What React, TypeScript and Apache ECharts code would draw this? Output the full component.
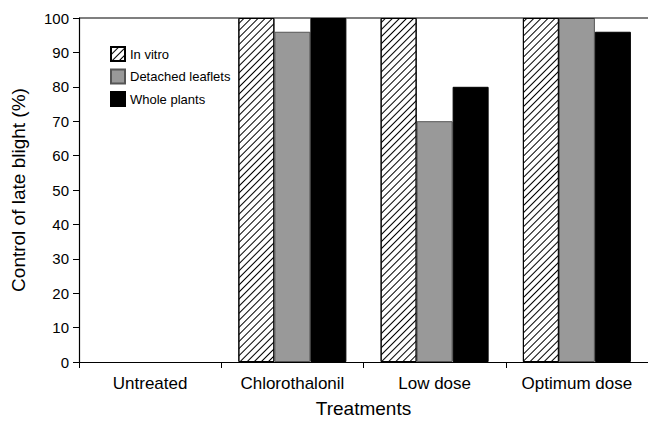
import React, { useEffect, useRef } from "react";
import * as echarts from "echarts";

const categories = ["Untreated", "Chlorothalonil", "Low dose", "Optimum dose"];
const inVitro = [0, 100, 100, 100];
const detachedLeaflets = [0, 96, 70, 100];
const wholePlants = [0, 100, 80, 96];
const yTicks = { min: 0, max: 100, interval: 10 };

const toItems = (arr: number[]) =>
  arr.map((v) => (v === 0 ? { value: v, itemStyle: { borderWidth: 0 } } : v));

export default function App() {
  const ref = useRef<HTMLDivElement>(null);
  useEffect(() => {
    if (!ref.current) return;
    const chart = echarts.init(ref.current, undefined, { renderer: "svg" });
    const font = "Liberation Sans, Arial, sans-serif";
    chart.setOption({
      animation: false,
      textStyle: { fontFamily: font },
      grid: {
        left: 79,
        right: 0,
        top: 18,
        bottom: 59,
        containLabel: false,
        outerBoundsMode: "none",
      },
      legend: {
        orient: "vertical",
        left: 105,
        top: 41,
        icon: "rect",
        itemWidth: 14,
        itemHeight: 14,
        itemGap: 6.5,
        textStyle: { fontSize: 13, lineHeight: 14, color: "#000", fontFamily: font },
        data: ["In vitro", "Detached leaflets", "Whole plants"],
      },
      xAxis: {
        type: "category",
        data: categories,
        name: "Treatments",
        nameLocation: "middle",
        nameGap: 37,
        nameTextStyle: { fontSize: 19, color: "#000", fontFamily: font },
        axisLine: { lineStyle: { color: "#000", width: 1.2 } },
        axisTick: { show: true, length: 6, lineStyle: { color: "#000" } },
        axisLabel: { fontSize: 17, color: "#000", margin: 13, fontFamily: font, interval: 0, hideOverlap: false },
      },
      yAxis: {
        type: "value",
        min: yTicks.min,
        max: yTicks.max,
        interval: yTicks.interval,
        name: "Control of late blight (%)",
        nameLocation: "middle",
        nameGap: 51,
        nameTextStyle: { fontSize: 19, color: "#000", fontFamily: font },
        axisLine: { show: true, lineStyle: { color: "#000", width: 1.2 } },
        axisTick: { show: true, length: 6, lineStyle: { color: "#000" } },
        axisLabel: { fontSize: 15, color: "#000", margin: 10, fontFamily: font },
        splitLine: { show: false },
      },
      graphic: [
        {
          type: "line",
          shape: { x1: 79, y1: 18, x2: 648, y2: 18 },
          style: { stroke: "#000", lineWidth: 1.2 },
          z: 100,
        },
      ],
      series: [
        {
          name: "In vitro",
          type: "bar",
          data: toItems(inVitro),
          barWidth: 36,
          barGap: "0%",
          itemStyle: {
            color: "#fff",
            borderColor: "#000",
            borderWidth: 1,
            decal: {
              symbol: "rect",
              symbolSize: 1,
              color: "#000",
              backgroundColor: "#fff",
              dashArrayX: [1, 0],
              dashArrayY: [1, 3.5],
              rotation: -Math.PI / 4,
            },
          },
        },
        {
          name: "Detached leaflets",
          type: "bar",
          data: toItems(detachedLeaflets),
          barWidth: 36,
          barGap: "0%",
          itemStyle: { color: "#999999", borderColor: "#555", borderWidth: 1 },
        },
        {
          name: "Whole plants",
          type: "bar",
          data: toItems(wholePlants),
          barWidth: 36,
          barGap: "0%",
          itemStyle: { color: "#000", borderColor: "#000", borderWidth: 1 },
        },
      ],
    });
    return () => chart.dispose();
  }, []);
  return <div ref={ref} style={{ width: 648, height: 421, position: "absolute", left: 0, top: 0 }} />;
}
